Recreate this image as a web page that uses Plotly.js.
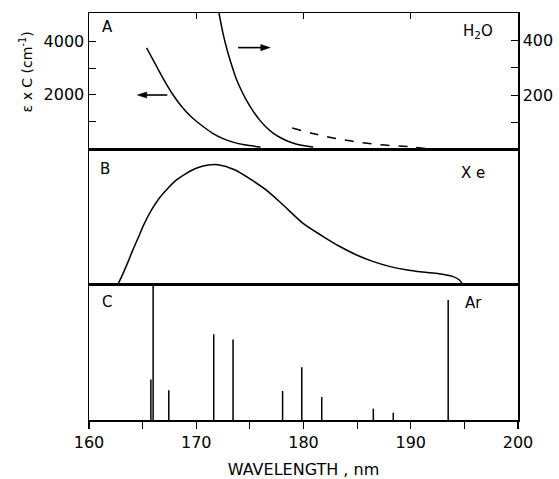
<!DOCTYPE html>
<html>
<head>
<meta charset="utf-8">
<script src="https://cdn.plot.ly/plotly-3.0.1.min.js"></script>
<style>html,body{margin:0;padding:0;background:#fff;}#chart{width:559px;height:479px;}</style>
</head>
<body>
<div id="chart"></div>
<script>
// Panel A: H2O absorption (left axis curve, right axis curve, dashed right-axis curve)
const h2oLeftNm  = [165.37, 166.20, 167.00, 167.80, 168.60, 169.50, 170.33, 171.50, 172.50, 173.42, 174.50, 176.00];
const h2oLeftVal = [3760, 3140, 2550, 2020, 1580, 1180, 900, 560, 350, 220, 120, 40];
const h2oRightNm  = [172.12, 172.50, 172.90, 173.30, 173.70, 174.20, 174.70, 175.30, 175.90, 176.50, 177.20, 178.00, 178.80, 179.80, 180.90];
const h2oRightVal = [500, 425, 362, 310, 263, 218, 180, 142, 110, 84, 61, 42, 28, 17, 11];
const h2oDashNm  = [178.95, 180.87, 183.97, 187.07, 190.17, 191.41];
const h2oDashVal = [80.6, 60, 35.5, 19.8, 11, 5];
// Arrows marking which axis each H2O curve belongs to (tail, head)
const arrowLeftNm = [167.3, 164.5];
const arrowLeftVal = [1990, 1990];
const arrowRightNm = [173.9, 176.9];
const arrowRightVal = [3770, 3770];
// Panel B: Xe emission continuum (relative)
const xeNm  = [162.67, 163.20, 163.66, 164.10, 164.59, 165.10, 165.83, 166.60, 167.38, 168.10, 168.93, 170.00, 171.10, 172.03, 173.58, 175.13, 176.68, 178.23, 179.93, 181.80, 183.35, 184.90, 186.45, 188.00, 189.55, 191.10, 192.65, 193.89, 194.51, 194.88];
const xeInt = [0, 0.090, 0.175, 0.262, 0.350, 0.445, 0.556, 0.648, 0.719, 0.775, 0.820, 0.865, 0.889, 0.891, 0.854, 0.780, 0.694, 0.583, 0.459, 0.361, 0.287, 0.224, 0.175, 0.138, 0.113, 0.096, 0.083, 0.064, 0.039, 0];
// Panel C: Ar lines (relative)
const arNm  = [165.77, 165.98, 167.44, 171.63, 173.43, 178.05, 179.84, 181.70, 186.51, 188.37, 193.49];
const arInt = [0.30, 1.0, 0.22, 0.635, 0.597, 0.215, 0.39, 0.17, 0.084, 0.054, 0.889];
// Axis ticks
const xTickVals = [160, 170, 180, 190, 200];
const xTickText = ['160', '170', '180', '190', '200'];
const yLeftTickVals = [2000, 4000];
const yLeftMinorVals = [1000, 3000];
const yRightTickVals = [200, 400];
const yRightMinorVals = [100, 300];

const arX = [], arY = [];
arNm.forEach((w, i) => { arX.push(w, w, null); arY.push(0, arInt[i], null); });

const black = '#000';
const font = 'DejaVu Sans, sans-serif';
const arrowTrace = (xs, ys) => ({x: xs, y: ys, xaxis: 'x3', yaxis: 'y3', mode: 'lines+markers',
  line: {color: black, width: 1.6},
  marker: {symbol: 'arrow', angleref: 'previous', size: [0, 10], color: black, opacity: 1, line: {width: 0.5, color: black}}});

const traces = [
  {x: h2oLeftNm, y: h2oLeftVal, xaxis: 'x3', yaxis: 'y3', mode: 'lines', line: {color: black, width: 1.5, shape: 'spline', smoothing: 0.8}},
  {x: h2oRightNm, y: h2oRightVal, xaxis: 'x3', yaxis: 'y4', mode: 'lines', line: {color: black, width: 1.5, shape: 'spline', smoothing: 0.8}},
  {x: h2oDashNm, y: h2oDashVal, xaxis: 'x3', yaxis: 'y4', mode: 'lines', line: {color: black, width: 1.5, dash: 'dash', shape: 'spline'}},
  arrowTrace(arrowLeftNm, arrowLeftVal),
  arrowTrace(arrowRightNm, arrowRightVal),
  {x: xeNm, y: xeInt, xaxis: 'x2', yaxis: 'y2', mode: 'lines', line: {color: black, width: 1.5, shape: 'spline', smoothing: 0.8}},
  {x: arX, y: arY, xaxis: 'x', yaxis: 'y', mode: 'lines', line: {color: black, width: 1.5}, connectgaps: false}
];

const bx = {range: [160, 200], showline: true, linecolor: black, linewidth: 1.5, showgrid: false, zeroline: false, fixedrange: true};
const domC = [0, 0.3317], domB = [0.3317, 0.6634], domA = [0.6634, 1];

const layout = {
  width: 559, height: 479,
  margin: {l: 89, r: 41, t: 13, b: 59},
  paper_bgcolor: '#fff', plot_bgcolor: '#fff',
  showlegend: false,
  font: {family: font, color: black, size: 14},
  xaxis: Object.assign({}, bx, {
    anchor: 'y', mirror: true, ticks: 'outside', ticklen: 7, tickwidth: 1.2, tickcolor: black,
    tickvals: xTickVals, ticktext: xTickText, tickfont: {size: 16, family: font},
    minor: {dtick: 5, tick0: 160, ticks: 'outside', ticklen: 7, tickwidth: 1.2, tickcolor: black, showgrid: false},
    title: {text: 'WAVELENGTH , nm', font: {size: 16, family: font}, standoff: 17}
  }),
  xaxis2: Object.assign({}, bx, {anchor: 'y2', mirror: true, ticks: '', showticklabels: false, matches: 'x'}),
  xaxis3: Object.assign({}, bx, {anchor: 'y3', side: 'top', mirror: true, ticks: 'inside', ticklen: 6, tickwidth: 1.2, tickcolor: black, tickvals: [170, 180, 190], showticklabels: false, matches: 'x'}),
  yaxis: {domain: domC, range: [0, 1], showline: true, mirror: true, linecolor: black, linewidth: 1.5, ticks: '', showticklabels: false, showgrid: false, zeroline: false, fixedrange: true},
  yaxis2: {domain: domB, range: [0, 1], showline: true, mirror: true, linecolor: black, linewidth: 1.5, ticks: '', showticklabels: false, showgrid: false, zeroline: false, fixedrange: true},
  yaxis3: {domain: domA, range: [-75, 5070], showline: true, linecolor: black, linewidth: 1.5, ticks: 'inside', ticklen: 7, tickwidth: 1.2, tickcolor: black,
    tickvals: yLeftTickVals, tickfont: {size: 16, family: font}, showgrid: false, zeroline: false, fixedrange: true,
    minor: {tickvals: yLeftMinorVals, ticks: 'inside', ticklen: 7, tickwidth: 1.2, tickcolor: black, showgrid: false}},
  yaxis4: {domain: domA, overlaying: 'y3', side: 'right', anchor: 'x3', range: [0, 500], showline: true, linecolor: black, linewidth: 1.5, ticks: 'inside', ticklen: 7, tickwidth: 1.2, tickcolor: black,
    tickvals: yRightTickVals, tickfont: {size: 16, family: font}, showgrid: false, zeroline: false, fixedrange: true,
    minor: {tickvals: yRightMinorVals, ticks: 'inside', ticklen: 7, tickwidth: 1.2, tickcolor: black, showgrid: false}},
  annotations: [
    {text: 'ε x C (cm<sup>-1</sup>)', xref: 'paper', yref: 'paper', x: -0.146, y: 0.855, textangle: -90, showarrow: false, xanchor: 'center', yanchor: 'middle', font: {size: 14}},
    {text: 'A', xref: 'paper', yref: 'paper', x: 0.042, y: 0.965, showarrow: false, xanchor: 'center', yanchor: 'middle', font: {size: 15}},
    {text: 'B', xref: 'paper', yref: 'paper', x: 0.037, y: 0.617, showarrow: false, xanchor: 'center', yanchor: 'middle', font: {size: 15}},
    {text: 'C', xref: 'paper', yref: 'paper', x: 0.042, y: 0.29, showarrow: false, xanchor: 'center', yanchor: 'middle', font: {size: 15}},
    {text: 'H<sub>2</sub>O', xref: 'paper', yref: 'paper', x: 0.907, y: 0.955, showarrow: false, xanchor: 'center', yanchor: 'middle', font: {size: 15}},
    {text: 'X e', xref: 'paper', yref: 'paper', x: 0.895, y: 0.608, showarrow: false, xanchor: 'center', yanchor: 'middle', font: {size: 15}},
    {text: 'Ar', xref: 'paper', yref: 'paper', x: 0.897, y: 0.2875, showarrow: false, xanchor: 'center', yanchor: 'middle', font: {size: 15}}
  ]
};

Plotly.newPlot('chart', traces, layout, {staticPlot: true, displayModeBar: false});
</script>
</body>
</html>
